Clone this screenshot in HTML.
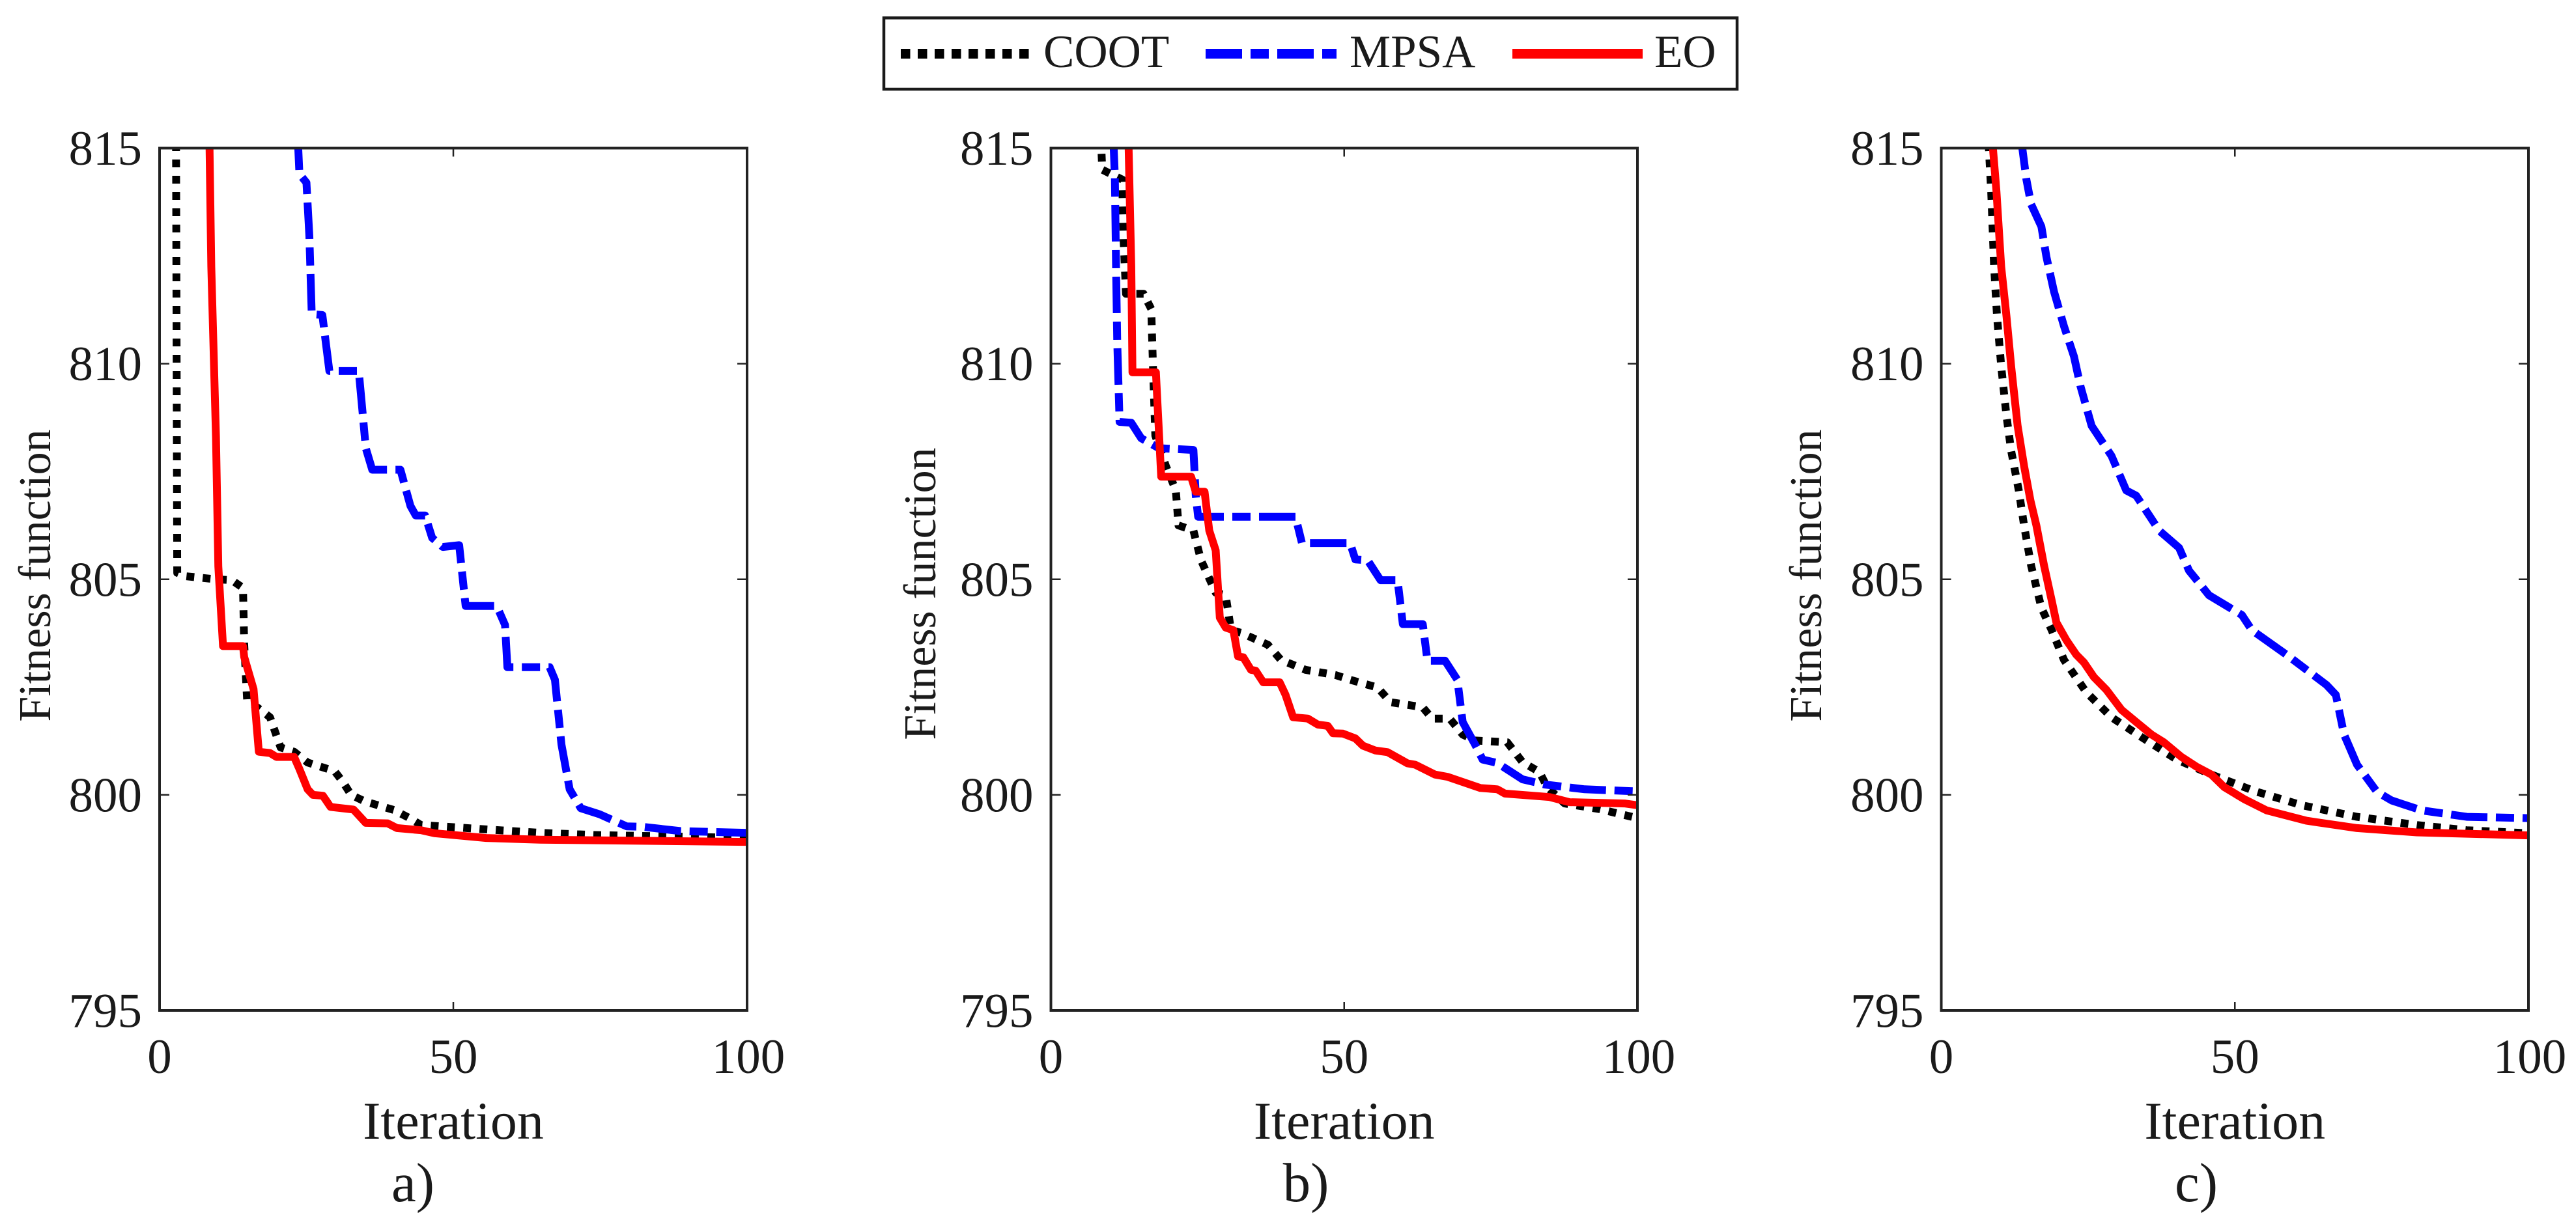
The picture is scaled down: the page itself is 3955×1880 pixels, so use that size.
<!DOCTYPE html>
<html>
<head>
<meta charset="utf-8">
<title>Fitness convergence curves</title>
<style>
html,body{margin:0;padding:0;background:#fff;width:3955px;height:1880px;overflow:hidden}
svg{display:block}
text{font-family:"Liberation Serif",serif;fill:#1a1a1a}
</style>
</head>
<body>
<svg id="chart" xmlns="http://www.w3.org/2000/svg" width="3955" height="1880" viewBox="0 0 3955 1880">
  <g>
    <rect x="1357" y="27.5" width="1310" height="109.5" fill="#fff" stroke="#1a1a1a" stroke-width="4.5"/>
    <line x1="1383" y1="82.5" x2="1585" y2="82.5" stroke="#000" stroke-width="15" stroke-dasharray="14.5 11.5"/>
    <text x="1602" y="103" font-size="71">COOT</text>
    <line x1="1851" y1="82.5" x2="2052" y2="82.5" stroke="#0000ff" stroke-width="15" stroke-dasharray="56 13 28 13"/>
    <text x="2072" y="103" font-size="71">MPSA</text>
    <line x1="2322" y1="82.5" x2="2522" y2="82.5" stroke="#ff0000" stroke-width="15"/>
    <text x="2540" y="103" font-size="71">EO</text>
  </g>
</svg>
<script>
const yTickLabels = [795, 800, 805, 810, 815];
const xTickLabels = [0, 50, 100];

const aCootIter = [2.8,2.8,3,4.5,9.6,12.3,14.2,14.4,14.9,16.9,18.8,20.6,22.9,25.2,29.8,31.2,32.6,34.9,39.9,42.7,44.5,55.6,64.8,74,100];
const aCootFit = [817,815,805.15,805.07,805,804.98,804.8,803.5,802.2,802,801.8,801.1,801,800.75,800.55,800.3,800,799.85,799.65,799.45,799.3,799.2,799.12,799.07,799];
const aMpsaIter = [23.5,23.6,23.8,25,25.5,25.9,27.7,28.9,33.9,34.6,35.1,36.2,41,42.7,43.6,45.2,46.4,48.2,51,52.1,57.4,58.8,59.2,66.4,67.3,68.4,69.8,71.7,74.9,79.5,82.2,88.7,100];
const aMpsaFit = [817,815,814.4,814.2,812.95,811.15,811.13,809.83,809.83,808.8,808.04,807.54,807.54,806.7,806.48,806.48,805.96,805.75,805.79,804.38,804.38,803.94,802.96,802.96,802.67,801.17,800.13,799.69,799.55,799.27,799.26,799.16,799.12];
const aEoIter = [8.4,8.5,8.8,9.6,10,10.8,14.2,14.4,16,16.9,18.8,19.9,22.9,23.8,25.2,26.1,27.8,29.1,33,35.1,38.8,40.4,44.5,46.8,55.6,64.8,100];
const aEoFit = [817,815,812.25,808.3,805.3,803.45,803.45,803.2,802.45,801,800.97,800.88,800.88,800.6,800.13,800,799.98,799.72,799.66,799.35,799.34,799.23,799.18,799.11,799,798.96,798.91];

const bCootIter = [8.5,8.6,8.75,12.15,12.4,12.8,15.8,17.1,17.4,17.8,19.6,21.3,21.75,24.3,25.6,28.1,29.8,30.7,32.4,37,39.2,43.4,48.5,51,55.7,57.9,63.4,65,68,70.2,72.3,77.8,80.4,83.3,84.6,87.6,93.5,100];
const bCootFit = [816,815,814.5,814.27,812.83,811.62,811.62,811.27,809.94,808.33,807.63,807.06,806.25,806.13,805.44,804.69,804.63,803.82,803.76,803.48,803.13,802.9,802.78,802.67,802.49,802.15,802.03,801.77,801.77,801.4,801.26,801.22,800.76,800.53,800.18,799.8,799.67,799.46];
const bMpsaIter = [10.6,10.7,10.9,11.1,11.3,11.7,13.7,15.4,18.4,24.3,24.7,25.1,41.7,42.8,51,51.9,54,56.2,59.1,60,63.4,64.2,67.2,69.3,70.2,72.3,73.6,76.1,80.4,84.2,91,100];
const bMpsaFit = [817,815,814.33,812.25,810.52,808.65,808.63,808.27,808.04,808,806.94,806.45,806.45,805.84,805.84,805.46,805.44,804.98,804.98,803.96,803.96,803.11,803.11,802.67,801.69,801.17,800.82,800.74,800.36,800.24,800.13,800.08];
const bEoIter = [13.2,13.25,13.7,13.9,17.9,18.8,23.9,24.7,26.2,27,28.1,28.8,29.8,31.1,31.9,32.8,34.1,34.9,36.2,39,40,41.3,43.8,45.5,47.2,48.1,49.8,51.9,53.2,55.3,57.4,60.8,62.1,65.5,67.6,73.2,76.1,77.4,85,88.4,97.8,100];
const bEoFit = [817,815,812.25,809.8,809.8,807.38,807.38,807.03,807.03,806.13,805.67,804.11,803.88,803.82,803.21,803.19,802.9,802.88,802.61,802.61,802.32,801.8,801.77,801.63,801.6,801.43,801.42,801.31,801.14,801.03,800.99,800.73,800.7,800.47,800.42,800.16,800.13,800.03,799.95,799.83,799.8,799.76];

const cCootIter = [7.9,8.1,8.5,9,9.5,10.2,11.1,11.9,13.2,14.1,15.3,17.05,18.8,20.9,24.7,29,34.1,40.1,46,53.3,61.4,70.8,81,89.5,100];
const cCootFit = [817,815,814,812.25,811.1,809.94,808.79,807.98,807.06,806.25,805.32,804.34,803.82,803.13,802.38,801.8,801.34,800.82,800.47,800.09,799.76,799.49,799.3,799.18,799.11];
const cMpsaIter = [13.5,13.8,14.5,15.3,17.05,17.9,19.2,20.9,22.6,23.7,25.6,29,31.5,33.2,37.1,40.5,42.2,45.6,51.2,52.9,58.9,65.6,67.2,68.6,70.8,74.2,76.7,81.8,89.5,100];
const cMpsaFit = [817,815,814.27,813.7,813.18,812.48,811.67,810.87,810.17,809.48,808.56,807.86,807.06,806.94,806.13,805.73,805.2,804.63,804.17,803.82,803.24,802.55,802.32,801.4,800.7,800.07,799.87,799.64,799.49,799.46];
const cEoIter = [8.5,8.8,9.4,10.2,11.1,11.9,13,14.1,15.2,16.2,17.5,18.8,19.6,21.3,23,24.3,26,28.1,30.7,33.2,35.8,37.9,40.9,43.5,46,48.2,51.6,55.4,62.2,70.8,81,100];
const cEoFit = [817,815,814,812.25,811.1,809.94,808.56,807.63,806.82,806.25,805.32,804.51,804,803.59,803.25,803.07,802.73,802.44,801.97,801.69,801.4,801.22,800.88,800.65,800.47,800.18,799.9,799.64,799.4,799.23,799.13,799.06];

const NS = 'http://www.w3.org/2000/svg';
const svg = document.getElementById('chart');
const panelTop = 227.5, panelBottom = 1552;
const xMax = 100, yMin = 795, yMax = 815;

function yScale(v) {
  return panelBottom - (v - yMin) / (yMax - yMin) * (panelBottom - panelTop);
}
function xScale(panel, v) {
  return panel.left + v / xMax * (panel.right - panel.left);
}
function make(tag, attrs, parent) {
  const el = document.createElementNS(NS, tag);
  for (const k in attrs) el.setAttribute(k, attrs[k]);
  parent.appendChild(el);
  return el;
}
function drawSeries(panel, group, iters, fits, color, dash, name) {
  const pts = iters.map((it, i) => xScale(panel, it).toFixed(1) + ',' + yScale(fits[i]).toFixed(1)).join(' ');
  const line = make('polyline', {
    points: pts, fill: 'none', stroke: color, 'stroke-width': 12,
    'stroke-linejoin': 'round', 'stroke-dasharray': dash,
    'clip-path': 'url(#clip-' + panel.id + ')'
  }, group);
  
  
}
function drawPanel(panel) {
  const g = make('g', {}, svg);
  
  

  const clip = make('clipPath', { id: 'clip-' + panel.id }, g);
  make('rect', { x: panel.left, y: panelTop, width: panel.right - panel.left + 2, height: panelBottom - panelTop }, clip);

  drawSeries(panel, g, panel.coot[0], panel.coot[1], '#000', '12 13', 'series-coot');
  drawSeries(panel, g, panel.mpsa[0], panel.mpsa[1], '#0000ff', '56 13 28 13', 'series-mpsa');
  drawSeries(panel, g, panel.eo[0], panel.eo[1], '#ff0000', 'none', 'series-eo');

  const frame = make('rect', {
    x: panel.left, y: panelTop, width: panel.right - panel.left, height: panelBottom - panelTop,
    fill: 'none', stroke: '#222', 'stroke-width': 4
  }, g);
  
  

  yTickLabels.forEach(v => {
    const y = yScale(v);
    if (v !== yMin && v !== yMax) {
      const tl = make('line', { x1: panel.left, x2: panel.left + 15, y1: y, y2: y, stroke: '#222', 'stroke-width': 2.5 }, g);
      
      
      const tr = make('line', { x1: panel.right, x2: panel.right - 15, y1: y, y2: y, stroke: '#222', 'stroke-width': 2.5 }, g);
      
      
    }
    const t = make('text', { x: panel.left - 27, y: y + 25.5, 'font-size': 75, 'text-anchor': 'end' }, g);
    
    
    t.textContent = v;
  });

  xTickLabels.forEach(v => {
    const x = xScale(panel, v);
    if (v !== 0 && v !== xMax) {
      const tb = make('line', { x1: x, x2: x, y1: panelBottom, y2: panelBottom - 13, stroke: '#222', 'stroke-width': 2.5 }, g);
      
      
      const tt = make('line', { x1: x, x2: x, y1: panelTop, y2: panelTop + 13, stroke: '#222', 'stroke-width': 2.5 }, g);
      
      
    }
    const t = make('text', { x: x + (v === xMax ? 2 : 0), y: 1648, 'font-size': 75, 'text-anchor': 'middle' }, g);
    
    
    t.textContent = v;
  });

  const centerX = (panel.left + panel.right) / 2;
  const xt = make('text', { x: centerX, y: 1749, 'font-size': 82, 'text-anchor': 'middle' }, g);
  
  
  xt.textContent = 'Iteration';

  const yt = make('text', {
    transform: 'translate(' + panel.titleX + ',' + panel.titleY + ') rotate(-90)',
    'font-size': 70, 'text-anchor': 'middle'
  }, g);
  
  
  yt.textContent = 'Fitness function';

  const cap = make('text', { x: panel.captionX, y: 1845, 'font-size': 85, 'text-anchor': 'middle' }, g);
  
  
  cap.textContent = panel.caption;
}

drawPanel({ id: 'a', left: 245, right: 1147, titleX: 77, titleY: 884, captionX: 634, caption: 'a)',
  coot: [aCootIter, aCootFit], mpsa: [aMpsaIter, aMpsaFit], eo: [aEoIter, aEoFit] });
drawPanel({ id: 'b', left: 1613.5, right: 2514, titleX: 1436, titleY: 912, captionX: 2005, caption: 'b)',
  coot: [bCootIter, bCootFit], mpsa: [bMpsaIter, bMpsaFit], eo: [bEoIter, bEoFit] });
drawPanel({ id: 'c', left: 2980.5, right: 3882, titleX: 2796, titleY: 884, captionX: 3372, caption: 'c)',
  coot: [cCootIter, cCootFit], mpsa: [cMpsaIter, cMpsaFit], eo: [cEoIter, cEoFit] });
</script>
</body>
</html>
